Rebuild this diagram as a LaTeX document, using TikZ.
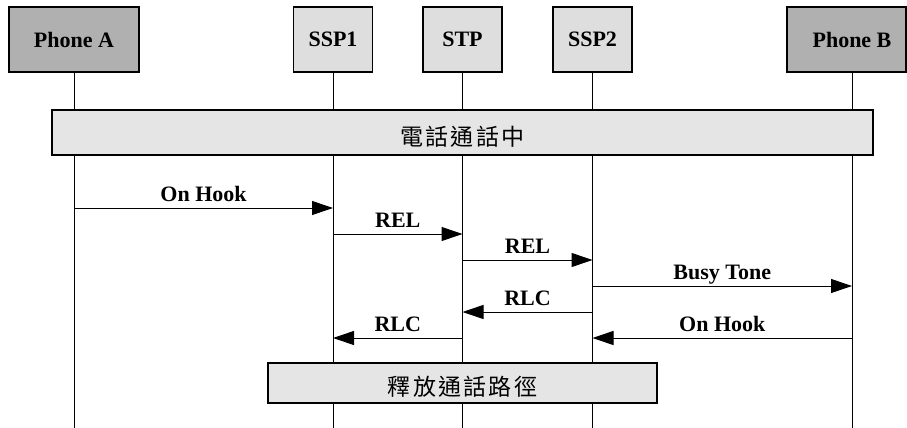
\documentclass[tikz,border=0pt]{standalone}
\usepackage{fontspec}
\setmainfont{Liberation Serif}
\newfontfamily\cjk[LetterSpace=10]{Noto Sans CJK TC}
\usetikzlibrary{arrows.meta}
\definecolor{phonegray}{gray}{0.69}
\definecolor{switchgray}{gray}{0.87}
\definecolor{bargray}{gray}{0.9}
\begin{document}
\begin{tikzpicture}[x=1pt,y=-1pt,
  actor/.style={draw, line width=1.3pt, minimum height=65, inner sep=0pt,
    font=\fontsize{22}{24}\selectfont\bfseries},
  phone/.style={actor, fill=phonegray, minimum width=130},
  switch/.style={actor, fill=switchgray, minimum width=79},
  life/.style={line width=1pt},
  bar/.style={draw, line width=1.3pt, fill=bargray, inner sep=0pt,
    text height=25.4pt, text depth=0pt,
    font=\fontsize{23}{26}\selectfont\cjk},
  msg/.style={line width=1pt, -{Triangle[length=21pt,width=14pt]}},
  lbl/.style={midway, anchor=base, yshift=7pt, inner sep=0pt,
    font=\fontsize{22}{24}\selectfont\bfseries}]
\useasboundingbox (0,0) rectangle (907,428);

% participants
\node[phone]  (pA)   at (74,39.5)    {Phone A};
\node[switch] (ssp1) at (333,39.5)   {SSP1};
\node[switch] (stp)  at (462.5,39.5) {STP};
\node[switch] (ssp2) at (592.5,39.5) {SSP2};
\node[phone, minimum width=119] (pB) at (846.5,39.5) {\hspace*{11pt}Phone B};
\coordinate (pBs) at ([xshift=5.5pt]pB.south);

% lifelines
\draw[life] (pA.south)   -- (pA.south |- 0,428);
\draw[life] (ssp1.south) -- (ssp1.south |- 0,428);
\draw[life] (stp.south)  -- (stp.south |- 0,428);
\draw[life] (ssp2.south) -- (ssp2.south |- 0,428);
\draw[life] (pBs)        -- (pBs |- 0,428);

% call in progress
\node[bar, minimum width=821, minimum height=45] (talk) at (462.5,132.5) {電話通話中};

% release sequence
\draw[msg] (pA |- 0,208)   -- node[lbl] {On Hook}   (ssp1 |- 0,208);
\draw[msg] (ssp1 |- 0,234) -- node[lbl] {REL}       (stp |- 0,234);
\draw[msg] (stp |- 0,260)  -- node[lbl] {REL}       (ssp2 |- 0,260);
\draw[msg] (ssp2 |- 0,286) -- node[lbl] {Busy Tone} (pBs |- 0,286);
\draw[msg] (ssp2 |- 0,312) -- node[lbl] {RLC}       (stp |- 0,312);
\draw[msg] (stp |- 0,338)  -- node[lbl] {RLC}       (ssp1 |- 0,338);
\draw[msg] (pBs |- 0,338)  -- node[lbl] {On Hook}   (ssp2 |- 0,338);

% path released
\node[bar, minimum width=389, minimum height=40] (rel) at (462.5,383) {釋放通話路徑};
\end{tikzpicture}
\end{document}
